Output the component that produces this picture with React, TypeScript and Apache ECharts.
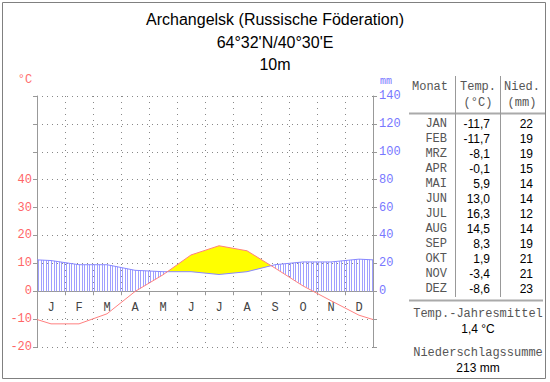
import React, { useEffect, useRef } from 'react';
import * as echarts from 'echarts';

const MONTH_LETTERS = ['J', 'F', 'M', 'A', 'M', 'J', 'J', 'A', 'S', 'O', 'N', 'D'];
const MONTH_ABBR = ['JAN', 'FEB', 'MRZ', 'APR', 'MAI', 'JUN', 'JUL', 'AUG', 'SEP', 'OKT', 'NOV', 'DEZ'];
const TEMPERATURE = [-11.7, -11.7, -8.1, -0.1, 5.9, 13.0, 16.3, 14.5, 8.3, 1.9, -3.4, -8.6];
const PRECIPITATION = [22, 19, 19, 15, 14, 14, 12, 14, 19, 21, 21, 23];
const TEMP_TICKS = [-20, -10, 0, 10, 20, 30, 40];
const PRECIP_TICKS = [0, 20, 40, 60, 80, 100, 120, 140];
const TITLE_LINES = ['Archangelsk (Russische Föderation)', "64°32'N/40°30'E", '10m'];

const MONO = '"Liberation Mono", "DejaVu Sans Mono", monospace';
const SANS = '"Liberation Sans", Arial, sans-serif';

const T_MIN = -20;
const T_MAX = 70;
const GRID = { left: 37, right: 177, top: 96, bottom: 35 };
const CHART_H = 382;

// curve knots: month centres, plus the chart edges (mean of Dec/Jan)
function knots(vals: number[], scale = 1): number[][] {
  const edge = (vals[0] + vals[vals.length - 1]) / 2;
  return [[0, edge / scale], ...vals.map((v, i) => [i + 0.5, v / scale]), [vals.length, edge / scale]];
}

function interp(pts: number[][], x: number): number {
  for (let i = 0; i < pts.length - 1; i++) {
    const [x0, y0] = pts[i];
    const [x1, y1] = pts[i + 1];
    if (x >= x0 && x <= x1) return y0 + ((x - x0) / (x1 - x0)) * (y1 - y0);
  }
  return pts[pts.length - 1][1];
}

const fmt = (v: number) => v.toFixed(1).replace('.', ',');

export default function App() {
  const ref = useRef<HTMLDivElement>(null);

  useEffect(() => {
    const chart = echarts.init(ref.current!, null, { renderer: 'svg' });
    const tPts = knots(TEMPERATURE);
    const pPts = knots(PRECIPITATION, 2);

    const renderItem = (params: any, api: any) => {
      const children: any[] = [];
      const seq: { x: number; t: number; p: number }[] = [];
      for (let i = 0; i < tPts.length; i++) {
        const x0 = tPts[i][0], t0 = tPts[i][1], p0 = pPts[i][1];
        seq.push({ x: x0, t: t0, p: p0 });
        if (i < tPts.length - 1) {
          const x1 = tPts[i + 1][0], t1 = tPts[i + 1][1], p1 = pPts[i + 1][1];
          const d0 = t0 - p0, d1 = t1 - p1;
          if (d0 * d1 < 0) {
            const f = d0 / (d0 - d1);
            seq.push({ x: x0 + f * (x1 - x0), t: t0 + f * (t1 - t0), p: p0 + f * (p1 - p0) });
          }
        }
      }
      let run: typeof seq = [];
      const flush = () => {
        if (run.length > 2) {
          const up = run.map((s) => api.coord([s.x, s.t]));
          const lo = run.slice().reverse().map((s) => api.coord([s.x, s.p]));
          children.push({
            type: 'polygon',
            shape: { points: up.concat(lo) },
            style: { fill: '#ffff00', stroke: 'none' },
            silent: true,
          });
        }
        run = [];
      };
      seq.forEach((s) => {
        if (s.t >= s.p - 1e-9) run.push(s);
        else flush();
      });
      flush();

      const step = 1 / 11;
      for (let k = 0; k * step < 12; k++) {
        const x = (k + 0.5) * step;
        const t = interp(tPts, x);
        const p = interp(pPts, x);
        if (p > t) {
          const a = api.coord([x, Math.max(0, t)]);
          const b = api.coord([x, p]);
          const px = Math.round(a[0]) + 0.5;
          children.push({
            type: 'line',
            shape: { x1: px, y1: a[1], x2: px, y2: b[1] },
            style: { stroke: '#a0a0ff', lineWidth: 1 },
            silent: true,
          });
        }
      }
      return { type: 'group', children };
    };

    const graphic: any[] = [];
    graphic.push({
      type: 'rect',
      shape: { x: 2.5, y: 2.5, width: 543, height: 376 },
      style: { fill: 'none', stroke: '#808080', lineWidth: 1 },
      silent: true,
    });
    TITLE_LINES.forEach((t, i) => {
      graphic.push({
        type: 'text',
        x: 275,
        y: [19, 42, 64][i],
        style: { text: t, fontFamily: SANS, fontSize: 16, fill: '#000', textAlign: 'center', textVerticalAlign: 'middle' },
      });
    });
    graphic.push({
      type: 'text', x: 25, y: 80,
      style: { text: '°C', fontFamily: MONO, fontSize: 12, fill: '#ff7070', textAlign: 'center', textVerticalAlign: 'middle' },
    });
    graphic.push({
      type: 'text', x: 386, y: 81,
      style: { text: 'mm', fontFamily: MONO, fontSize: 10, fill: '#7777ff', textAlign: 'center', textVerticalAlign: 'middle' },
    });
    const hdr = (text: string, x: number, y: number) => ({
      type: 'text', x, y,
      style: { text, fontFamily: MONO, fontSize: 12, fill: '#555', textAlign: 'center', textVerticalAlign: 'middle' },
    });
    graphic.push(hdr('Monat', 430, 87), hdr('Temp.', 478, 87), hdr('(°C)', 478, 103), hdr('Nied.', 522, 87), hdr('(mm)', 522, 103));
    graphic.push({ type: 'line', shape: { x1: 409, y1: 113.5, x2: 545, y2: 113.5 }, style: { stroke: '#aaa', lineWidth: 2 } });
    graphic.push({ type: 'line', shape: { x1: 455.5, y1: 76, x2: 455.5, y2: 297 }, style: { stroke: '#999', lineWidth: 1 } });
    graphic.push({ type: 'line', shape: { x1: 500.5, y1: 76, x2: 500.5, y2: 297 }, style: { stroke: '#999', lineWidth: 1 } });
    graphic.push({ type: 'line', shape: { x1: 409, y1: 300.5, x2: 543, y2: 300.5 }, style: { stroke: '#aaa', lineWidth: 2 } });
    MONTH_ABBR.forEach((m, i) => {
      const y = 124 + 15 * i;
      graphic.push({
        type: 'text', x: 447, y,
        style: { text: m, fontFamily: MONO, fontSize: 12, fill: '#555', textAlign: 'right', textVerticalAlign: 'middle' },
      });
      graphic.push({
        type: 'text', x: 490, y,
        style: { text: fmt(TEMPERATURE[i]), fontFamily: SANS, fontSize: 12, fill: '#000', textAlign: 'right', textVerticalAlign: 'middle' },
      });
      graphic.push({
        type: 'text', x: 533, y,
        style: { text: String(PRECIPITATION[i]), fontFamily: SANS, fontSize: 12, fill: '#000', textAlign: 'right', textVerticalAlign: 'middle' },
      });
    });
    const meanT = TEMPERATURE.reduce((a, b) => a + b, 0) / TEMPERATURE.length;
    const sumP = PRECIPITATION.reduce((a, b) => a + b, 0);
    graphic.push(hdr('Temp.-Jahresmittel', 478, 314));
    graphic.push({
      type: 'text', x: 478, y: 329,
      style: { text: fmt(meanT) + ' °C', fontFamily: SANS, fontSize: 12, fill: '#000', textAlign: 'center', textVerticalAlign: 'middle' },
    });
    graphic.push(hdr('Niederschlagssumme', 478, 353));
    graphic.push({
      type: 'text', x: 478, y: 368,
      style: { text: sumP + ' mm', fontFamily: SANS, fontSize: 12, fill: '#000', textAlign: 'center', textVerticalAlign: 'middle' },
    });

    // place the month axis on the 0 °C line
    const plotH = CHART_H - GRID.top - GRID.bottom;
    const zeroOffset = -(plotH * (0 - T_MIN)) / (T_MAX - T_MIN);

    const option: any = {
      animation: false,
      backgroundColor: '#fff',
      grid: GRID,
      xAxis: [
        {
          type: 'value', min: 0, max: 12, interval: 1,
          axisLine: { show: false, onZero: false },
          axisTick: { show: false },
          axisLabel: { show: false },
          splitLine: { show: true, lineStyle: { color: '#888', type: [1, 5], width: 1 } },
        },
        {
          type: 'category', data: MONTH_LETTERS, boundaryGap: true, position: 'bottom',
          offset: zeroOffset,
          axisLine: { show: true, onZero: false, lineStyle: { color: '#999' } },
          axisTick: { show: true, length: 4, lineStyle: { color: '#999' } },
          axisLabel: { color: '#444', fontFamily: MONO, fontSize: 12, margin: 11 },
          splitLine: { show: false },
        },
      ],
      yAxis: [
        {
          type: 'value', min: T_MIN, max: T_MAX, interval: 10, position: 'left',
          axisLine: { show: true, onZero: false, lineStyle: { color: '#999' } },
          axisTick: { show: true, length: 4, lineStyle: { color: '#999' } },
          axisLabel: {
            formatter: (v: number) => (TEMP_TICKS.includes(v) ? String(v) : ''),
            color: '#ff6666', fontFamily: MONO, fontSize: 12, margin: 5,
          },
          splitLine: { show: true, lineStyle: { color: '#888', type: [1, 4], width: 1 } },
        },
        {
          type: 'value', min: -40, max: 140, interval: 20, position: 'right',
          axisLine: { show: true, onZero: false, lineStyle: { color: '#999' } },
          axisTick: { show: true, length: 4, lineStyle: { color: '#999' } },
          axisLabel: {
            formatter: (v: number) => (PRECIP_TICKS.includes(v) ? String(v) : ''),
            color: '#7777ff', fontFamily: MONO, fontSize: 12, margin: 6,
          },
          splitLine: { show: false },
        },
      ],
      series: [
        {
          type: 'custom', xAxisIndex: 0, yAxisIndex: 0, z: 1, silent: true,
          renderItem, data: [[0, 0]],
        },
        {
          type: 'line', name: 'Niederschlag', xAxisIndex: 0, yAxisIndex: 1, z: 3,
          data: knots(PRECIPITATION), showSymbol: false, symbol: 'none',
          lineStyle: { color: '#8888ff', width: 1 },
        },
        {
          type: 'line', name: 'Temperatur', xAxisIndex: 0, yAxisIndex: 0, z: 4,
          data: tPts, showSymbol: false, symbol: 'none',
          lineStyle: { color: '#ff8080', width: 1 },
        },
      ],
      graphic,
    };
    chart.setOption(option);
    return () => chart.dispose();
  }, []);

  return (
    <div
      ref={ref}
      style={{ position: 'absolute', left: 0, top: 0, width: 550, height: 382, background: '#fff' }}
    />
  );
}
